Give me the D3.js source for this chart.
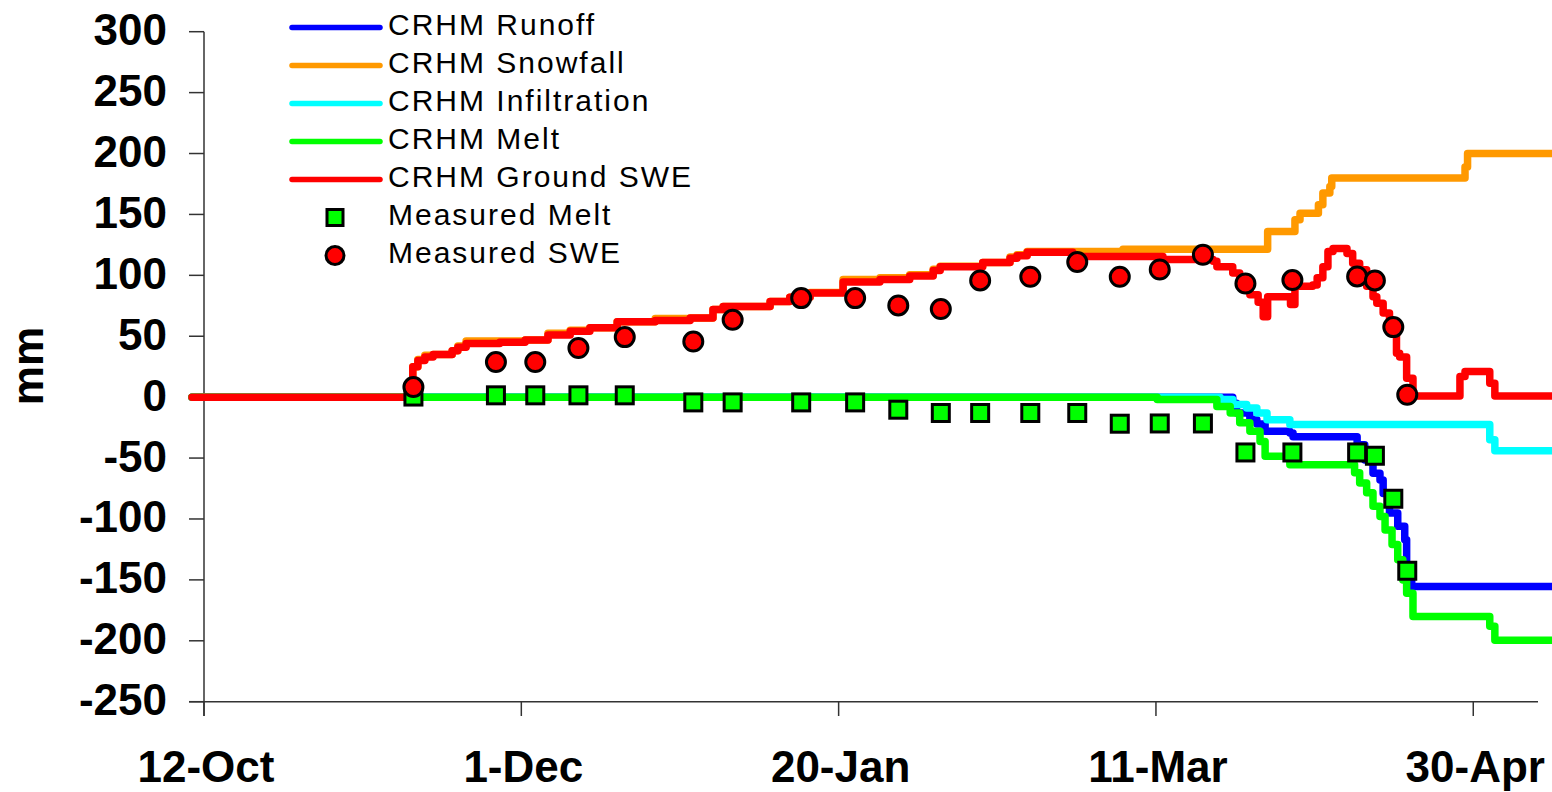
<!DOCTYPE html>
<html>
<head>
<meta charset="utf-8">
<script src="https://cdn.jsdelivr.net/npm/d3@7"></script>
<style>
  html, body { margin: 0; padding: 0; background: #fff; }
  svg { display: block; font-family: "Liberation Sans", Arial, sans-serif; }
</style>
</head>
<body>
<svg id="chart" width="1552" height="792"></svg>
<script>
// ---- data (x = days after 12-Oct-2006, y = mm) ----
const seasonStart = Date.UTC(2006, 9, 12);
const tickDays = [0, 50, 100, 150, 200];
const yTicks = [-250, -200, -150, -100, -50, 0, 50, 100, 150, 200, 250, 300];

const crhmRunoff = [[-1.9,0],[162.1,-5],[162.7,-13],[164.8,-18.5],[165.9,-22],[167.2,-28],[171.1,-29.5],
  [171.6,-32.5],[181.7,-39],[182.9,-51.5],[184.2,-62.5],[185.3,-68],[185.8,-79],[186.8,-95],[188.1,-106],
  [189.2,-117],[189.5,-139],[190.3,-155.5],[214,-155.5]];

const crhmSnowfall = [[-1.9,0],[32.9,25],[33.7,31],[34.8,34.5],[36.1,35],[39.1,38],[40.0,42],[41.3,46],
  [46.6,46],[50.6,47],[54.2,52.5],[57.7,55],[60.8,57],[65.1,62],[71.1,64.5],[76.6,65],[80.2,72],[81.8,74.5],
  [89.2,78.5],[92.3,82],[95.5,86],[100.7,96.5],[106.5,98],[111.2,100.5],[114.9,105],[116.0,107.5],
  [122.7,110.5],[127.0,115],[128.1,117],[129.7,119.5],[144.8,121.5],[167.6,136],[171.9,145.6],[172.7,151],
  [175.6,158],[176.3,167.5],[177.4,173],[177.7,180],[198.7,189],[199.1,200],[214,200]];

const crhmInfiltration = [[-1.9,0],[160.1,-2],[162.1,-6],[164.3,-9],[165.9,-13],[167.5,-18.5],
  [171.1,-22.5],[202.6,-35],[203.4,-44],[214,-44]];

const crhmMelt = [[-1.9,0],[150.2,-2],[159.6,-7.6],[161.7,-13],[163.2,-21],[164.8,-28],[166.4,-36.5],
  [167.2,-48.5],[171.1,-55.5],[181.3,-62],[182.1,-70.5],[183.2,-78.5],[184.2,-89.5],[185.3,-98],
  [186.1,-109],[187.2,-121],[188.1,-133.5],[188.9,-150],[189.5,-161],[190.5,-180],[202.6,-188],
  [203.4,-199.5],[214,-199.5]];

const crhmGroundSWE = [[-1.9,0],[32.9,25],[33.7,30],[34.8,33],[36.1,35],[39.1,38],[40.0,41],[41.3,44],
  [46.6,45],[50.6,47],[54.2,51],[57.7,54],[60.8,57],[65.1,62],[71.1,63],[76.6,65],[80.2,72],[81.8,74.5],
  [89.2,78.5],[92.3,82],[95.5,85.5],[100.7,94.5],[106.5,96.5],[111.2,99.5],[114.9,104],[116.0,107],
  [122.7,110.5],[127.0,114],[128.1,116],[129.7,119],[136.9,115.5],[151.1,113],[159.0,111.5],[159.6,107],
  [162.1,102],[163.2,96.5],[164.8,84],[166.1,78],[166.9,66],[167.6,82.5],[171.2,76],[171.9,91],
  [174.7,92],[175.4,98],[176.3,107],[177.1,119.5],[177.9,122],[180.1,118],[181.0,110],[182.1,104.5],
  [183.2,91],[184.2,82.5],[184.8,77],[185.8,69],[186.8,55],[187.9,36],[188.4,33],[189.5,15.5],
  [190.5,1],[197.9,17],[198.7,21],[202.6,11.5],[203.4,1],[214,1]];

const measDays = [33.0,46.0,52.2,59.0,66.3,77.1,83.3,94.1,102.6,109.4,116.1,122.3,130.2,137.6,
  144.3,150.6,157.4,164.1,171.5,181.7,184.5,187.4,189.6];
const measMelt = [0.5,1.5,1.5,1.5,1.5,-4.3,-4.3,-4.3,-4.3,-10.3,-13,-13,-13,-13,
  -21.8,-21.6,-21.6,-45.4,-45.4,-45.4,-48.1,-83.4,-142.5];
const measSWE = [8.3,28.8,28.8,40.3,49.3,45.7,63.5,81.3,81.3,75.3,72.3,95.8,98.8,110.9,
  98.8,104.8,116.9,93.3,96.1,99.1,95.8,57.5,2.0];

const lineNames = ["CRHM Runoff", "CRHM Snowfall", "CRHM Infiltration", "CRHM Melt", "CRHM Ground SWE"];
const lineColors = ["#0000ff", "#ff9900", "#00ffff", "#00ff00", "#ff0000"];
const lineSeries = [crhmRunoff, crhmSnowfall, crhmInfiltration, crhmMelt, crhmGroundSWE];

// ---- setup ----
const svg = d3.select("#chart");
const toDate = d => new Date(seasonStart + d * 864e5);

const x = d3.scaleUtc()
  .domain([toDate(0), toDate(210.2)])
  .range([204, 1538]);
const y = d3.scaleLinear()
  .domain([-250, 300])
  .range([701.7, 31.7]);

const axisColor = "#333";

// y axis
const yAxis = svg.append("g");
yAxis.append("line")
  .attr("x1", 204).attr("x2", 204)
  .attr("y1", y(300)).attr("y2", 716)
  .attr("stroke", axisColor).attr("stroke-width", 1.5);
yAxis.selectAll(".ytick")
  .data(yTicks)
  .enter().append("line")
  .attr("x1", 189).attr("x2", 204)
  .attr("y1", d => y(d)).attr("y2", d => y(d))
  .attr("stroke", axisColor).attr("stroke-width", 1.5);
yAxis.selectAll(".ylab")
  .data(yTicks)
  .enter().append("text")
  .attr("x", 167)
  .attr("y", d => y(d) + 13.5)
  .attr("text-anchor", "end")
  .style("font-size", "44px")
  .style("font-weight", "bold")
  .text(d => d);

// x axis
const xAxis = svg.append("g");
xAxis.append("line")
  .attr("x1", 189).attr("x2", 1538)
  .attr("y1", y(-250)).attr("y2", y(-250))
  .attr("stroke", axisColor).attr("stroke-width", 1.5);
xAxis.selectAll(".xtick")
  .data(tickDays)
  .enter().append("line")
  .attr("x1", d => x(toDate(d))).attr("x2", d => x(toDate(d)))
  .attr("y1", y(-250)).attr("y2", 716)
  .attr("stroke", axisColor).attr("stroke-width", 1.5);
const fmt = d3.utcFormat("%-d-%b");
xAxis.selectAll(".xlab")
  .data(tickDays)
  .enter().append("text")
  .attr("x", d => x(toDate(d)) + 2)
  .attr("y", 782)
  .attr("text-anchor", "middle")
  .style("font-size", "44px")
  .style("font-weight", "bold")
  .text(d => fmt(toDate(d)));

// y label
svg.append("text")
  .attr("transform", "translate(43,366) rotate(-90)")
  .attr("text-anchor", "middle")
  .style("font-size", "44px")
  .style("font-weight", "bold")
  .text("mm");

// ---- lines ----
const line = d3.line()
  .x(d => x(toDate(d[0])))
  .y(d => y(d[1]))
  .curve(d3.curveStepAfter);

const plot = svg.append("g");
lineSeries.forEach((s, i) => {
  plot.append("path")
    .datum(s)
    .attr("d", line)
    .attr("fill", "none")
    .attr("stroke", lineColors[i])
    .attr("stroke-width", 7.5)
    .attr("stroke-linejoin", "round")
    .attr("stroke-linecap", "round");
});

// ---- markers ----
plot.selectAll(".meltPt")
  .data(measDays)
  .enter().append("rect")
  .attr("x", d => x(toDate(d)) - 8.5)
  .attr("y", (d, i) => y(measMelt[i]) - 8.5)
  .attr("width", 17).attr("height", 17)
  .attr("fill", "#00ff00")
  .attr("stroke", "#000").attr("stroke-width", 3);

plot.selectAll(".swePt")
  .data(measDays)
  .enter().append("circle")
  .attr("cx", d => x(toDate(d)))
  .attr("cy", (d, i) => y(measSWE[i]))
  .attr("r", 9.5)
  .attr("fill", "#ff0000")
  .attr("stroke", "#000").attr("stroke-width", 3);

// ---- legend ----
const legend = svg.append("g");
const legendNames = lineNames.concat(["Measured Melt", "Measured SWE"]);
legendNames.forEach((name, i) => {
  const base = 35 + 38 * i;
  const cy = base - 7.5;
  if (i < 5) {
    legend.append("line")
      .attr("x1", 292).attr("x2", 380)
      .attr("y1", cy).attr("y2", cy)
      .attr("stroke", lineColors[i])
      .attr("stroke-width", 5.5)
      .attr("stroke-linecap", "round");
  } else if (i === 5) {
    legend.append("rect")
      .attr("x", 335 - 8).attr("y", cy - 8)
      .attr("width", 16).attr("height", 16)
      .attr("fill", "#00ff00")
      .attr("stroke", "#000").attr("stroke-width", 3);
  } else {
    legend.append("circle")
      .attr("cx", 335).attr("cy", cy).attr("r", 9)
      .attr("fill", "#ff0000")
      .attr("stroke", "#000").attr("stroke-width", 3);
  }
  legend.append("text")
    .attr("x", 388)
    .attr("y", base)
    .style("font-size", "30px")
    .style("letter-spacing", "2px")
    .text(name);
});
</script>
</body>
</html>
